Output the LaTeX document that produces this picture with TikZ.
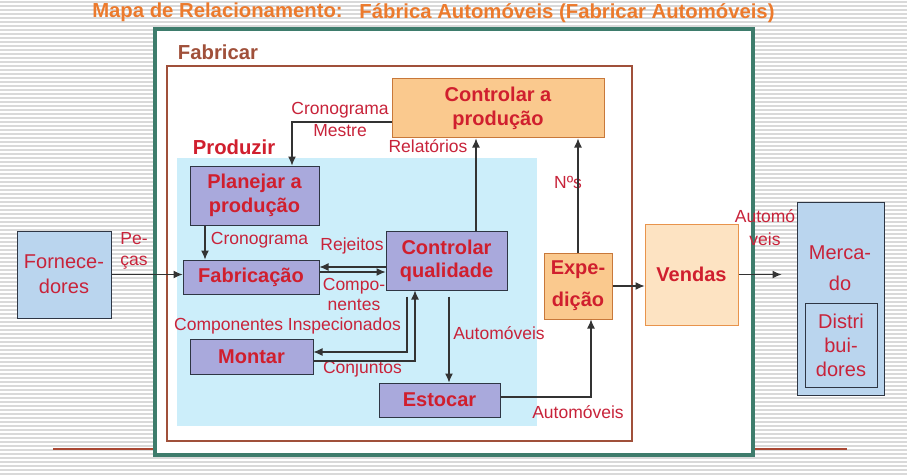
\documentclass[tikz,border=0pt]{standalone}
\usepackage{fontspec}
\setmainfont{Liberation Sans}
\usepackage{tikz}
\usetikzlibrary{positioning, arrows.meta}
\definecolor{lblred}{HTML}{C8233A}
\definecolor{boxred}{HTML}{D01F2E}
\definecolor{lavender}{HTML}{A9A9DC}
\definecolor{boxedge}{HTML}{2E3644}
\definecolor{ctrlfill}{HTML}{FAC98E}
\definecolor{ctrledge}{HTML}{C8783A}
\definecolor{salefill}{HTML}{FDE3C2}
\definecolor{saleedge}{HTML}{E8944C}
\definecolor{extfill}{HTML}{BAD5EE}
\definecolor{prodfill}{HTML}{CCEEFA}
\definecolor{frame}{HTML}{3E7C6C}
\definecolor{fabbrown}{HTML}{A0503A}
\definecolor{titleorange}{HTML}{EC7A2C}
\definecolor{arrowgray}{HTML}{333333}
\newcommand\bxfont{\fontsize{20}{24}\selectfont\bfseries}
\newcommand\lblfont{\fontsize{17.5}{21}\selectfont}
\newcommand\extfont{\fontsize{20}{25}\selectfont}
\tikzstyle{proc} = [rectangle, draw=boxedge, fill=lavender, text=boxred, font=\bxfont, align=center, inner sep=0pt, line width=1pt]
\tikzstyle{ctrl} = [proc, draw=ctrledge, fill=ctrlfill]
\tikzstyle{ext} = [rectangle, draw=boxedge, fill=extfill, text=lblred, font=\extfont, align=center, inner sep=0pt, line width=1pt]
\tikzstyle{lbl} = [text=lblred, font=\lblfont, align=center, inner sep=0pt]
\tikzstyle{heading} = [font=\fontsize{20.3}{24}\selectfont\bfseries, inner sep=0pt]
\tikzstyle{line} = [draw=arrowgray, line width=1.1pt, -{Latex[length=9pt, width=8pt]}]
\tikzstyle{stripe} = [draw=black!15, line width=1.4pt]

\begin{document}
\begin{tikzpicture}[x=1pt, y=-1pt]
    \useasboundingbox (0,0) rectangle (907,476);
    \foreach \y in {2,6,...,474} \draw[stripe] (0,\y) -- (907,\y);
    \draw[draw=fabbrown!90!red, line width=1.2pt] (53,449) -- (847,449);
    \draw[draw=frame, fill=white, line width=4pt] (155,29) rectangle (753,455);
    \draw[draw=fabbrown, line width=2pt] (167,66) rectangle (632,441);
    \fill[prodfill] (177,158) rectangle (537,426);

    \node (maptitle) [heading, text=titleorange] at (217.5,12) {Mapa de Relacionamento:};
    \node (factitle) [heading, text=titleorange] at (567,13) {Fábrica Automóveis (Fabricar Automóveis)};
    \node (fabricar) [heading, text=fabbrown] at (218,52) {Fabricar};
    \node (produzir) [heading, text=boxred] at (234,147) {Produzir};

    \node (ctrlprod) [ctrl, minimum width=212pt, minimum height=59pt] at (498,108.5) {Controlar a\\produção};
    \node (planejar) [proc, minimum width=129pt, minimum height=59pt] at (254.5,195.5) {Planejar a\\produção};
    \node (fabric) [proc, minimum width=136pt, minimum height=34pt] at (251,277) {Fabricação};
    \node (qualid) [proc, minimum width=121pt, minimum height=59pt, font=\fontsize{20}{23}\selectfont\bfseries] at (446.5,260.5) {Controlar\\qualidade};
    \node (montar) [proc, minimum width=123pt, minimum height=35pt] at (251.5,356.5) {Montar};
    \node (estocar) [proc, minimum width=121pt, minimum height=34pt] at (439.5,400) {Estocar};
    \node (exped) [ctrl, minimum width=68pt, minimum height=66pt, font=\fontsize{20}{32}\selectfont\bfseries] at (578,286) {Expe-\\dição};
    \node (vendas) [ctrl, fill=salefill, draw=saleedge, minimum width=93pt, minimum height=101pt] at (691.5,274.5) {Vendas};
    \node (fornec) [ext, minimum width=94pt, minimum height=87pt] at (64,274.5) {Fornece-\\dores};
    \node (mercado) [ext, minimum width=87pt, minimum height=193pt] at (840.5,298.5) {};
    \node (mercadotxt) [ext, draw=none, font=\fontsize{20}{31}\selectfont] at (840,268) {Merca-\\do};
    \node (distrib) [ext, minimum width=72pt, minimum height=84pt, font=\fontsize{20}{24}\selectfont] at (841,345) {Distri\\bui-\\dores};

    \node (pecas) [lbl] at (134,251) {Pe-\\ças};
    \node (cronmestre) [lbl, font=\fontsize{17.5}{22}\selectfont] at (340,119) {Cronograma\\Mestre};
    \node (relat) [lbl] at (428,146) {Relatórios};
    \node (nums) [lbl] at (568,182) {Nºs};
    \node (cron) [lbl] at (259.5,240) {Cronograma};
    \node (rejeitos) [lbl] at (352,246) {Rejeitos};
    \node (compo) [lbl, font=\fontsize{17.5}{20}\selectfont] at (354,294) {Compo-\\nentes};
    \node (compinsp) [lbl] at (287.5,326) {Componentes Inspecionados};
    \node (conjuntos) [lbl] at (362.5,369) {Conjuntos};
    \node (autoest) [lbl] at (499,333) {Automóveis};
    \node (autoexp) [lbl] at (578,412) {Automóveis};
    \node (automerc) [lbl, font=\fontsize{17.5}{23}\selectfont] at (765,228) {Automó\\veis};

    \coordinate (rejout) at ([yshift=-6.5pt]qualid.west);
    \coordinate (compin) at ([yshift=-11.5pt]qualid.west);
    \path (mercado.west |- vendas.east) ++(-15,0) coordinate (mktin);

    \path [line] (fornec.east) -- (fornec.east -| fabric.west);
    \path [line] ([yshift=-13.5pt]ctrlprod.west) -| ([xshift=37.5pt]planejar.north);
    \path [line] ([xshift=29.5pt]qualid.north) -- ([xshift=29.5pt]ctrlprod.south -| qualid.north);
    \path [line] (exped.north) -- (exped.north |- ctrlprod.south);
    \path [line] ([xshift=-49.5pt]planejar.south) -- ([xshift=-49.5pt]planejar.south |- fabric.north);
    \path [line] (rejout) -- (rejout -| fabric.east);
    \path [line] (fabric.east |- compin) -- (compin);
    \path [line] ([xshift=-39.5pt, yshift=-6pt]qualid.south) |- ([yshift=4.5pt]montar.east);
    \path [line] ([yshift=-4.5pt]montar.east) -| ([xshift=-31.5pt]qualid.south);
    \path [line] ([xshift=2.5pt, yshift=-6pt]qualid.south) -- ([xshift=9.5pt]estocar.north);
    \path [line] ([yshift=3pt]estocar.east) -| ([xshift=13pt]exped.south);
    \path [line] (exped.east) -- (exped.east -| vendas.west);
    \path [line] (vendas.east) -- (mktin);

\end{tikzpicture}
\end{document}
